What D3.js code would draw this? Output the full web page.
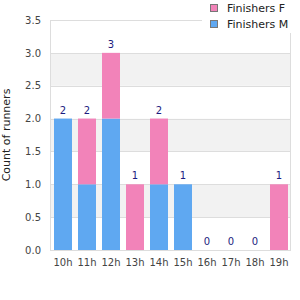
<!DOCTYPE html>
<html>
<head>
<meta charset="utf-8">
<script src="https://cdn.jsdelivr.net/npm/d3@7"></script>
<style>
  body { margin: 0; background: #fff; }
  text { font-family: "DejaVu Sans", sans-serif; }
</style>
</head>
<body>
<script>
var svgWidth = 300;
var svgHeight = 300;

var hours = ["10h", "11h", "12h", "13h", "14h", "15h", "16h", "17h", "18h", "19h"];
var finishersM = [2, 1, 2, 0, 1, 1, 0, 0, 0, 0];
var finishersF = [0, 1, 1, 1, 1, 0, 0, 0, 0, 1];
var yTicks = [0, 0.5, 1, 1.5, 2, 2.5, 3, 3.5];

var colorM = "#5fa8f1";
var colorF = "#f283b9";

var plot = {left: 50, top: 20, right: 291, bottom: 250};

var svg = d3.select("body")
  .append("svg")
  .attr("width", svgWidth)
  .attr("height", svgHeight);

var x = d3.scaleBand()
  .domain(hours)
  .range([51, 291])
  .paddingInner(0.25)
  .paddingOuter(0.125);

var y = d3.scaleLinear()
  .domain([0, 3.5])
  .range([plot.bottom, plot.top]);

// alternating bands
for (var i = 0; i < yTicks.length - 1; i++) {
  svg.append("rect")
    .attr("x", plot.left)
    .attr("y", y(yTicks[i + 1]))
    .attr("width", plot.right - plot.left)
    .attr("height", y(yTicks[i]) - y(yTicks[i + 1]))
    .attr("fill", i % 2 == 1 ? "#f2f2f2" : "#ffffff");
}

// grid lines
svg.selectAll(".grid")
  .data(yTicks)
  .enter().append("line")
  .attr("x1", plot.left)
  .attr("x2", plot.right)
  .attr("y1", function(d) { return Math.round(y(d)) + 0.5; })
  .attr("y2", function(d) { return Math.round(y(d)) + 0.5; })
  .attr("stroke", "#dddddd");

// frame sides
svg.append("line")
  .attr("x1", plot.left + 0.5).attr("x2", plot.left + 0.5)
  .attr("y1", plot.top).attr("y2", plot.bottom)
  .attr("stroke", "#dddddd");
svg.append("line")
  .attr("x1", plot.right - 0.5).attr("x2", plot.right - 0.5)
  .attr("y1", plot.top).attr("y2", plot.bottom + 1)
  .attr("stroke", "#dddddd");

// stacked bars
var rows = hours.map(function(h, i) {
  return {hour: h, M: finishersM[i], F: finishersF[i]};
});
var stack = d3.stack().keys(["M", "F"])(rows);
var colors = {M: colorM, F: colorF};

stack.forEach(function(layer) {
  svg.selectAll(".bar-" + layer.key)
    .data(layer)
    .enter().append("rect")
    .attr("x", function(d) { return x(d.data.hour); })
    .attr("y", function(d) { return y(d[1]); })
    .attr("width", x.bandwidth())
    .attr("height", function(d) { return y(d[0]) - y(d[1]); })
    .attr("fill", colors[layer.key]);
});

// totals
svg.selectAll(".total")
  .data(rows)
  .enter().append("text")
  .attr("x", function(d) { return x(d.hour) + x.bandwidth() / 2; })
  .attr("y", function(d) { return y(d.M + d.F) - 5; })
  .attr("text-anchor", "middle")
  .attr("font-size", 10)
  .attr("fill", "#1c1c80")
  .text(function(d) { return d.M + d.F; });

// axes
var yAxis = svg.append("g")
  .attr("transform", "translate(" + plot.left + ",0)")
  .call(d3.axisLeft(y).tickValues(yTicks).tickFormat(d3.format(".1f")).tickSize(0).tickPadding(9));
yAxis.select(".domain").remove();
yAxis.selectAll("text").attr("font-size", 10).attr("fill", "#444").style("font-family", "DejaVu Sans, sans-serif");

var xAxis = svg.append("g")
  .attr("transform", "translate(0," + plot.bottom + ")")
  .call(d3.axisBottom(x).tickSize(0).tickPadding(9));
xAxis.select(".domain").remove();
xAxis.selectAll("text").attr("font-size", 10).attr("fill", "#444").style("font-family", "DejaVu Sans, sans-serif");

svg.append("text")
  .attr("transform", "translate(10,135) rotate(-90)")
  .attr("text-anchor", "middle")
  .attr("font-size", 11)
  .attr("fill", "#222")
  .text("Count of runners");

// legend
var legendItems = [{name: "Finishers F", color: colorF}, {name: "Finishers M", color: colorM}];
svg.append("rect")
  .attr("x", 202).attr("y", 0)
  .attr("width", 98).attr("height", 33)
  .attr("fill", "#fff");
var legend = svg.selectAll(".legend")
  .data(legendItems)
  .enter().append("g")
  .attr("transform", function(d, i) { return "translate(210," + (4 + i * 16) + ")"; });
legend.append("rect")
  .attr("x", 0.5).attr("y", 0.5)
  .attr("width", 7).attr("height", 7)
  .attr("fill", function(d) { return d.color; })
  .attr("stroke", "#777");
legend.append("text")
  .attr("x", 17).attr("y", 8)
  .attr("font-size", 11)
  .attr("fill", "#222")
  .text(function(d) { return d.name; });
</script>
</body>
</html>
